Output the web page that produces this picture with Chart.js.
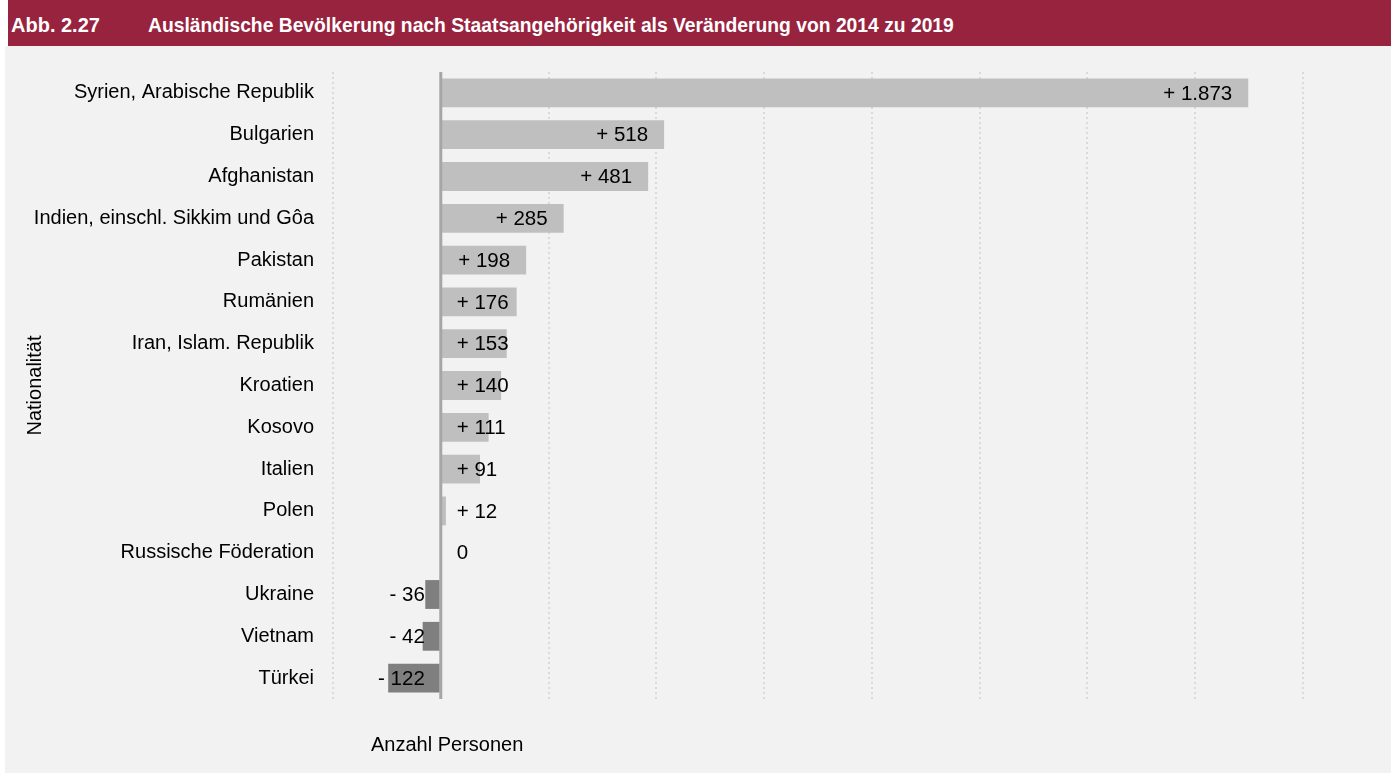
<!DOCTYPE html>
<html lang="de">
<head>
    <meta charset="UTF-8">
    <title>Abb. 2.27</title>
    <script src="https://cdn.jsdelivr.net/npm/chart.js"></script>
    <style>
        body {
            margin: 0;
            background: #ffffff;
            font-family: "Liberation Sans", Arial, sans-serif;
        }
        .header {
            position: absolute;
            left: 8px;
            top: 0;
            width: 1383px;
            height: 46px;
            background: #98233e;
            color: #ffffff;
            font-weight: bold;
            line-height: 51px;
        }
        .header .nr { position: absolute; left: 3px; font-size: 20px; }
        .header .title { position: absolute; left: 140px; font-size: 19.3px; }
        .panel {
            position: absolute;
            left: 5px;
            top: 46px;
            width: 1386px;
            height: 727px;
            background: #f2f2f2;
        }
        canvas { display: block; }
    </style>
</head>
<body>
    <div class="header">
        <span class="nr">Abb. 2.27</span>
        <span class="title">Ausländische Bevölkerung nach Staatsangehörigkeit als Veränderung von 2014 zu 2019</span>
    </div>
    <div class="panel">
        <canvas id="chart" width="1386" height="727"></canvas>
    </div>

    <script>
        const nationen = [
            'Syrien, Arabische Republik', 'Bulgarien', 'Afghanistan',
            'Indien, einschl. Sikkim und Gôa', 'Pakistan', 'Rumänien',
            'Iran, Islam. Republik', 'Kroatien', 'Kosovo', 'Italien', 'Polen',
            'Russische Föderation', 'Ukraine', 'Vietnam', 'Türkei'
        ];
        const veraenderung = [1873, 518, 481, 285, 198, 176, 153, 140, 111, 91, 12, 0, -36, -42, -122];

        const FONT = '"Liberation Sans", Arial, sans-serif';

        // 1873 -> "+ 1.873", -36 -> "- 36"
        function fmt(v) {
            const s = String(Math.abs(v)).replace(/\B(?=(\d{3})+(?!\d))/g, '.');
            if (v > 0) return '+ ' + s;
            if (v < 0) return '- ' + s;
            return s;
        }

        const labelPlugin = {
            id: 'labels',
            afterDatasetsDraw(chart) {
                const ctx = chart.ctx;
                const xs = chart.scales.x;
                const area = chart.chartArea;
                const zero = xs.getPixelForValue(0);

                // Nulllinie
                ctx.save();
                ctx.strokeStyle = '#a6a6a6';
                ctx.lineWidth = 3;
                ctx.beginPath();
                ctx.moveTo(zero, area.top);
                ctx.lineTo(zero, area.bottom);
                ctx.stroke();

                ctx.font = '20.5px ' + FONT;
                ctx.fillStyle = '#000000';
                ctx.textBaseline = 'middle';
                ctx.textAlign = 'right';
                chart.getDatasetMeta(0).data.forEach((bar, i) => {
                    const v = veraenderung[i];
                    const txt = fmt(v);
                    const w = ctx.measureText(txt).width;
                    let x;
                    if (v < 0) {
                        x = zero - 16;
                    } else {
                        x = Math.max(bar.x - 16, zero + 16 + w);
                    }
                    ctx.fillText(txt, x, bar.y + 1);
                });

                // Achsentitel unten
                ctx.font = '20px ' + FONT;
                ctx.textAlign = 'left';
                ctx.fillText('Anzahl Personen', area.left + 38, area.bottom + 46);
                ctx.restore();
            }
        };

        new Chart(document.getElementById('chart'), {
            type: 'bar',
            data: {
                labels: nationen,
                datasets: [{
                    data: veraenderung,
                    backgroundColor: veraenderung.map(v => v < 0 ? '#7f7f7f' : '#bfbfbf'),
                    borderWidth: 0,
                    barPercentage: 0.69,
                    categoryPercentage: 1
                }]
            },
            options: {
                indexAxis: 'y',
                responsive: false,
                animation: false,
                layout: { padding: { left: 0, top: 26, right: 88, bottom: 74 } },
                plugins: {
                    legend: { display: false },
                    tooltip: { enabled: false }
                },
                scales: {
                    x: {
                        min: -250,
                        max: 2000,
                        ticks: { display: false, stepSize: 250 },
                        grid: {
                            drawTicks: false,
                            color: c => c.tick && c.tick.value === 0 ? 'rgba(0,0,0,0)' : '#d9d9d9',
                            lineWidth: 2
                        },
                        border: { display: false, dash: [2, 3] }
                    },
                    y: {
                        afterFit(scale) {
                            scale.width = 328;
                            scale.paddingTop = 12;
                            scale.paddingBottom = 12;
                        },
                        grid: { display: false, drawTicks: false },
                        border: { display: false },
                        ticks: {
                            color: '#000000',
                            padding: 19,
                            font: { family: FONT, size: 20 }
                        },
                        title: {
                            display: true,
                            text: 'Nationalität',
                            color: '#000000',
                            font: { family: FONT, size: 20 },
                            padding: { top: 18, bottom: 0 }
                        }
                    }
                }
            },
            plugins: [labelPlugin]
        });
    </script>
</body>
</html>
